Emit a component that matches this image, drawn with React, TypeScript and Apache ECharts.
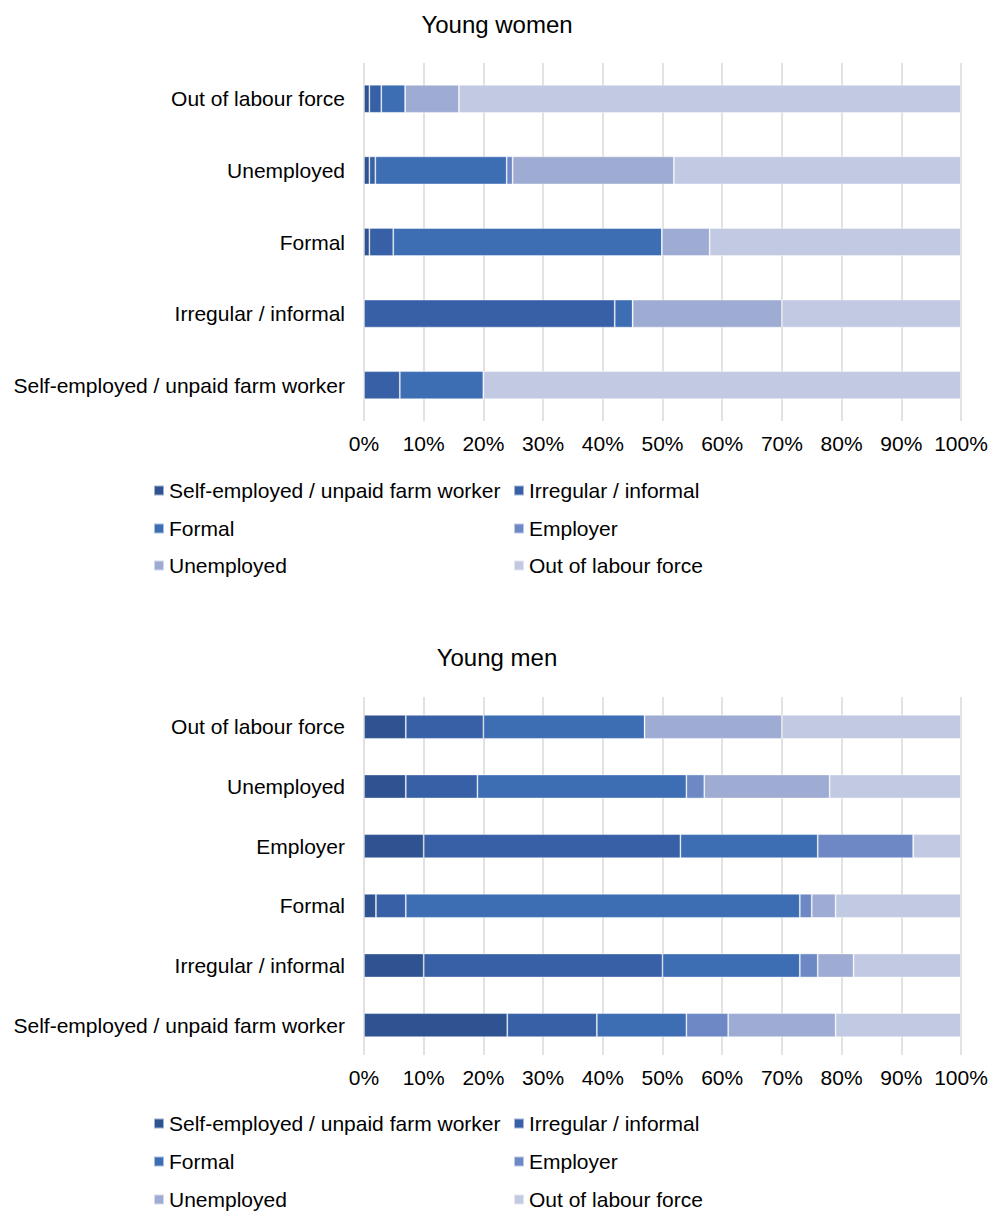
import React, { useEffect, useRef } from "react";
import * as echarts from "echarts";

// Categories listed bottom-to-top (as ECharts stacks category axis from bottom)
const womenCategories = [
  "Self-employed / unpaid farm worker",
  "Irregular / informal",
  "Formal",
  "Unemployed",
  "Out of labour force",
];
const menCategories = [
  "Self-employed / unpaid farm worker",
  "Irregular / informal",
  "Formal",
  "Employer",
  "Unemployed",
  "Out of labour force",
];

const seriesNames = [
  "Self-employed / unpaid farm worker",
  "Irregular / informal",
  "Formal",
  "Employer",
  "Unemployed",
  "Out of labour force",
];
const seriesColors = ["#2F5291", "#3760A6", "#3D6DB3", "#6D88C4", "#9EABD3", "#C2C9E2"];

// Young women values (%), ordered as womenCategories
const womenSelfEmployed = [0, 0, 0.9, 0.9, 0.9];
const womenIrregular = [6, 42, 4, 1, 2];
const womenFormal = [14, 3, 45, 22, 4];
const womenEmployer = [0, 0, 0, 1, 0];
const womenUnemployed = [0, 25, 8, 27, 9];
const womenOutOfLabour = [80, 30, 42.1, 48.1, 84.1];

// Young men values (%), ordered as menCategories
const menSelfEmployed = [24, 10, 2, 10, 7, 7];
const menIrregular = [15, 40, 5, 43, 12, 13];
const menFormal = [15, 23, 66, 23, 35, 27];
const menEmployer = [7, 3, 2, 16, 3, 0];
const menUnemployed = [18, 6, 4, 0, 21, 23];
const menOutOfLabour = [21, 18, 21, 8, 22, 30];

const FONT = "'Liberation Sans', Arial, sans-serif";

export default function App() {
  const ref = useRef<HTMLDivElement>(null);

  useEffect(() => {
    if (!ref.current) return;
    const chart = echarts.init(ref.current, undefined, { renderer: "svg" });

    const womenData = [womenSelfEmployed, womenIrregular, womenFormal, womenEmployer, womenUnemployed, womenOutOfLabour];
    const menData = [menSelfEmployed, menIrregular, menFormal, menEmployer, menUnemployed, menOutOfLabour];

    const makeXAxis = (gridIndex: number) => ({
      type: "value",
      gridIndex,
      min: 0,
      max: 100,
      interval: 10,
      axisLine: { show: false },
      axisTick: { show: false },
      axisLabel: {
        formatter: "{value}%",
        color: "#000",
        fontSize: 21,
        fontFamily: FONT,
        margin: 12,
      },
      splitLine: { show: true, lineStyle: { color: "#D9D9D9", width: 1.5 } },
    });
    const makeYAxis = (gridIndex: number, data: string[]) => ({
      type: "category",
      gridIndex,
      data,
      axisLine: { show: false },
      axisTick: { show: false },
      axisLabel: { color: "#000", fontSize: 21, fontFamily: FONT, margin: 19 },
    });

    const series: any[] = [];
    seriesNames.forEach((name, i) => {
      series.push({
        name,
        type: "bar",
        stack: "women",
        xAxisIndex: 0,
        yAxisIndex: 0,
        barWidth: 28,
        data: womenData[i],
        itemStyle: { color: seriesColors[i], borderColor: "rgba(255,255,255,0.55)", borderWidth: 0.8 },
      });
    });
    seriesNames.forEach((name, i) => {
      series.push({
        name,
        type: "bar",
        stack: "men",
        xAxisIndex: 1,
        yAxisIndex: 1,
        barWidth: 24,
        data: menData[i],
        itemStyle: { color: seriesColors[i], borderColor: "rgba(255,255,255,0.55)", borderWidth: 0.8 },
      });
    });

    const legendPos = [
      { left: 153, row: 0 },
      { left: 513, row: 0 },
      { left: 153, row: 1 },
      { left: 513, row: 1 },
      { left: 153, row: 2 },
      { left: 513, row: 2 },
    ];
    const topRows = [492, 530, 567];
    const botRows = [1125, 1163, 1201];
    const legends: any[] = [];
    [topRows, botRows].forEach((rows) => {
      seriesNames.forEach((name, i) => {
        legends.push({
          data: [{ name, icon: "rect" }],
          left: legendPos[i].left,
          top: rows[legendPos[i].row] - 12,
          padding: 0,
          itemWidth: 10,
          itemHeight: 10,
          selectedMode: false,
          textStyle: { color: "#000", fontSize: 21, fontFamily: FONT, padding: [1, 0, 0, 0] },
        });
      });
    });

    chart.setOption({
      animation: false,
      backgroundColor: "#fff",
      color: seriesColors,
      title: [
        { text: "Young women", left: "center", top: 7, textStyle: { fontSize: 24, fontWeight: "normal", color: "#000", fontFamily: FONT } },
        { text: "Young men", left: "center", top: 640, textStyle: { fontSize: 24, fontWeight: "normal", color: "#000", fontFamily: FONT } },
      ],
      legend: legends,
      grid: [
        { left: 364, right: 33, top: 63, height: 358 },
        { left: 364, right: 33, top: 697, height: 358 },
      ],
      xAxis: [makeXAxis(0), makeXAxis(1)],
      yAxis: [makeYAxis(0, womenCategories), makeYAxis(1, menCategories)],
      series,
    });

    return () => chart.dispose();
  }, []);

  return (
    <div
      ref={ref}
      style={{ position: "absolute", left: 0, top: 0, width: 994, height: 1214 }}
    />
  );
}
